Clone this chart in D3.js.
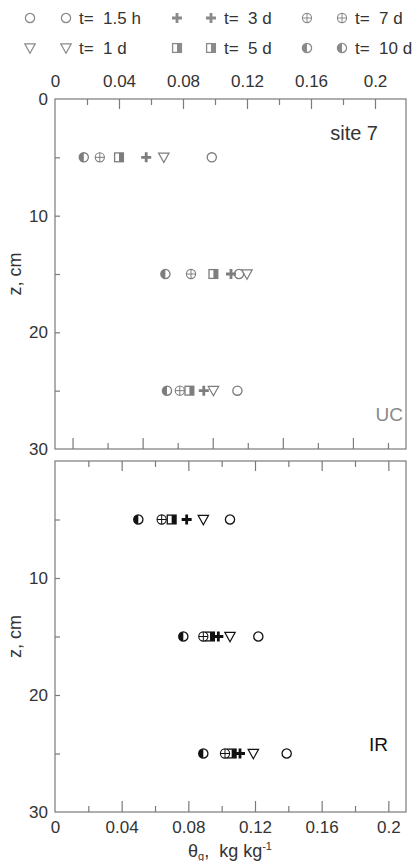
<!DOCTYPE html>
<html>
<head>
<meta charset="utf-8">
<script src="https://cdn.jsdelivr.net/npm/d3@7"></script>
<style>
  html, body { margin: 0; padding: 0; background: #fff; }
  svg { display: block; }
  text { font-family: "Liberation Sans", Arial, sans-serif; fill: #333; }
</style>
</head>
<body>
<svg id="chart" width="419" height="861"></svg>
<script>
// Soil depths (cm) at which gravimetric water content was sampled
const depths = [5, 15, 25];

// Sampling times after irrigation, and the marker drawn for each
const seriesLabels = ["t=  1.5 h", "t=  1 d", "t=  3 d", "t=  5 d", "t=  7 d", "t=  10 d"];
const seriesShapes = ["circle", "triangle", "plus", "halfSquare", "crossCircle", "halfCircle"];

// Gravimetric water content θg (kg/kg) at depths 5, 15, 25 cm — site 7, UC plot
const uc15h = [0.098, 0.115, 0.114];
const uc1d  = [0.068, 0.120, 0.099];
const uc3d  = [0.057, 0.110, 0.093];
const uc5d  = [0.040, 0.099, 0.084];
const uc7d  = [0.028, 0.085, 0.078];
const uc10d = [0.018, 0.069, 0.070];

// Same for the IR plot
const ir15h = [0.105, 0.122, 0.139];
const ir1d  = [0.089, 0.105, 0.119];
const ir3d  = [0.079, 0.098, 0.111];
const ir5d  = [0.070, 0.093, 0.106];
const ir7d  = [0.064, 0.089, 0.102];
const ir10d = [0.050, 0.077, 0.089];

const xTicks = [0, 0.04, 0.08, 0.12, 0.16, 0.2];
const yTicks = [0, 10, 20, 30];

const ucSeries = [uc15h, uc1d, uc3d, uc5d, uc7d, uc10d];
const irSeries = [ir15h, ir1d, ir3d, ir5d, ir7d, ir10d];

const svg = d3.select("#chart");
const frameColor = "#7a7a7a";
const fmt = d => (d === 0 ? "0" : d3.format(".2~f")(d));

// Draw one marker of the given shape centred on (x, y)
function marker(g, shape, x, y, color) {
  const r = 4.6;
  const m = g.append("g").attr("transform", `translate(${x},${y})`);
  if (shape === "circle") {
    m.append("circle").attr("r", r).attr("fill", "#fff").attr("stroke", color).attr("stroke-width", 1.3);
  } else if (shape === "triangle") {
    const h = 5.2;
    m.append("path").attr("d", `M${-h},${-h + 1}L${h},${-h + 1}L0,${h}Z`)
      .attr("fill", "#fff").attr("stroke", color).attr("stroke-width", 1.2);
  } else if (shape === "plus") {
    const a = 5, w = 1.4;
    m.append("path")
      .attr("d", `M${-w},${-a}H${w}V${-w}H${a}V${w}H${w}V${a}H${-w}V${w}H${-a}V${-w}H${-w}Z`)
      .attr("fill", color);
  } else if (shape === "halfSquare") {
    const s = 4.4;
    m.append("rect").attr("x", -s).attr("y", -s).attr("width", 2 * s).attr("height", 2 * s)
      .attr("fill", "#fff").attr("stroke", color).attr("stroke-width", 1.3);
    m.append("rect").attr("x", 0).attr("y", -s).attr("width", s).attr("height", 2 * s).attr("fill", color);
  } else if (shape === "crossCircle") {
    m.append("circle").attr("r", r).attr("fill", "#fff").attr("stroke", color).attr("stroke-width", 1.1);
    m.append("path").attr("d", `M${-r},0H${r}M0,${-r}V${r}`).attr("stroke", color).attr("stroke-width", 1);
  } else if (shape === "halfCircle") {
    m.append("circle").attr("r", r).attr("fill", "#fff").attr("stroke", color).attr("stroke-width", 1.3);
    m.append("path").attr("d", `M0,${-r}A${r},${r} 0 0 0 0,${r}Z`).attr("fill", color);
  }
}

// ---- Legend ----
const legend = svg.append("g");
const legendCols = [{ a: 30, b: 66, t: 79 }, { a: 177, b: 211, t: 224 }, { a: 307, b: 342, t: 355 }];
const legendRows = [18, 48];
// row 1 = 1.5 h, 3 d, 7 d; row 2 = 1 d, 5 d, 10 d
const legendOrder = [[0, 2, 4], [1, 3, 5]];
legendOrder.forEach((row, ri) => {
  row.forEach((si, ci) => {
    const c = legendCols[ci], y = legendRows[ri];
    marker(legend, seriesShapes[si], c.a, y, "#8a8a8a");
    marker(legend, seriesShapes[si], c.b, y, "#8a8a8a");
    legend.append("text").attr("x", c.t).attr("y", y + 6).attr("font-size", 17)
      .attr("xml:space", "preserve").style("white-space", "pre").text(seriesLabels[si]);
  });
});

// ---- Panels ----
const left = 55, right = 406;
const minorTicks = d3.range(0.02, 0.2001, 0.02);
const isMajor = v => Math.abs(Math.round(v / 0.04) * 0.04 - v) < 1e-6;

function panel(top, bottom, xMax, series, color, opts) {
  const x = d3.scaleLinear().domain([0, xMax]).range([left, left + opts.pxPerUnit * xMax]);
  const y = d3.scaleLinear().domain([0, 30]).range([top, bottom]);
  const g = svg.append("g");

  // frame
  g.append("rect").attr("x", left).attr("y", top).attr("width", right - left).attr("height", bottom - top)
    .attr("fill", "none").attr("stroke", frameColor).attr("stroke-width", 1.2);

  // inner ticks along the top edge
  const tg = g.append("g").attr("transform", `translate(0,${top})`)
    .call(d3.axisBottom(x).tickValues(minorTicks).tickSize(0).tickFormat(""));
  tg.select(".domain").remove();
  tg.selectAll(".tick line").attr("stroke", frameColor).attr("stroke-width", 1.2)
    .attr("y2", d => (isMajor(d) ? 10 : 6));

  // inner ticks along the bottom edge
  const botScale = opts.bottomScale || x;
  const bg = g.append("g").attr("transform", `translate(0,${bottom})`)
    .call(d3.axisTop(botScale).tickValues(opts.bottomTickValues || minorTicks).tickSize(0).tickFormat(""));
  bg.select(".domain").remove();
  bg.selectAll(".tick line").attr("stroke", frameColor).attr("stroke-width", 1.2)
    .attr("y2", d => (isMajor(d) ? -11 : -6));

  // x tick labels
  const onTop = opts.labelsOn === "top";
  const lab = onTop
    ? d3.axisTop(x).tickValues(xTicks).tickSize(0).tickPadding(12).tickFormat(fmt)
    : d3.axisBottom(x).tickValues(xTicks).tickSize(0).tickPadding(9).tickFormat(fmt);
  const lg = g.append("g").attr("transform", `translate(0,${onTop ? top : bottom})`).call(lab);
  lg.select(".domain").remove();
  lg.selectAll("text").attr("font-size", 17).attr("font-family", "Liberation Sans, Arial, sans-serif").attr("fill", "#333");

  // y axis: inward ticks every 5 cm, labels every 10 cm
  const yg = g.append("g").attr("transform", `translate(${left},0)`)
    .call(d3.axisRight(y).tickValues(d3.range(5, 30, 5)).tickSize(5).tickFormat(""));
  yg.select(".domain").remove();
  yg.selectAll(".tick line").attr("stroke", frameColor).attr("stroke-width", 1.2);
  g.selectAll(".ylab").data(yTicks.filter(opts.yLabelFilter)).enter().append("text")
    .attr("x", 48).attr("y", d => y(d) + 6).attr("text-anchor", "end").attr("font-size", 17).text(d => d);

  g.append("text").attr("transform", `translate(21,${y(15)}) rotate(-90)`).attr("text-anchor", "middle")
    .attr("font-size", 18).text("z, cm");

  // data markers
  series.forEach((vals, si) => {
    vals.forEach((v, di) => marker(g, seriesShapes[si], x(v), y(depths[di]), color));
  });
  return { g, x, y };
}

const ucPanel = panel(99, 449, 0.22, ucSeries, "#7d7d7d", {
  pxPerUnit: 1600,
  labelsOn: "top",
  bottomScale: d3.scaleLinear().domain([-0.01, 0.19]).range([55, 405.5]),
  bottomTickValues: d3.range(0, 0.1801, 0.02),
  yLabelFilter: () => true
});
ucPanel.g.append("text").attr("x", 378).attr("y", 140).attr("text-anchor", "end").attr("font-size", 20).text("site 7");
ucPanel.g.append("text").attr("x", 403).attr("y", 421).attr("text-anchor", "end").attr("font-size", 19)
  .style("fill", "#8a8a8a").text("UC");

const irPanel = panel(461, 812, 0.21, irSeries, "#111", {
  pxPerUnit: 350 / 0.21,
  labelsOn: "bottom",
  yLabelFilter: d => d > 0
});
irPanel.g.append("text").attr("x", 388).attr("y", 751).attr("text-anchor", "end").attr("font-size", 19)
  .style("fill", "#111").text("IR");

// x-axis title: θg, kg kg⁻¹
const title = svg.append("text").attr("x", 230).attr("y", 857).attr("text-anchor", "middle").attr("font-size", 18)
  .attr("xml:space", "preserve").style("white-space", "pre");
title.append("tspan").text("θ");
title.append("tspan").attr("font-size", 11).attr("dy", 3).text("g");
title.append("tspan").attr("dy", -3).text(",  kg kg");
title.append("tspan").attr("font-size", 11).attr("dy", -7).text("-1");
</script>
</body>
</html>
